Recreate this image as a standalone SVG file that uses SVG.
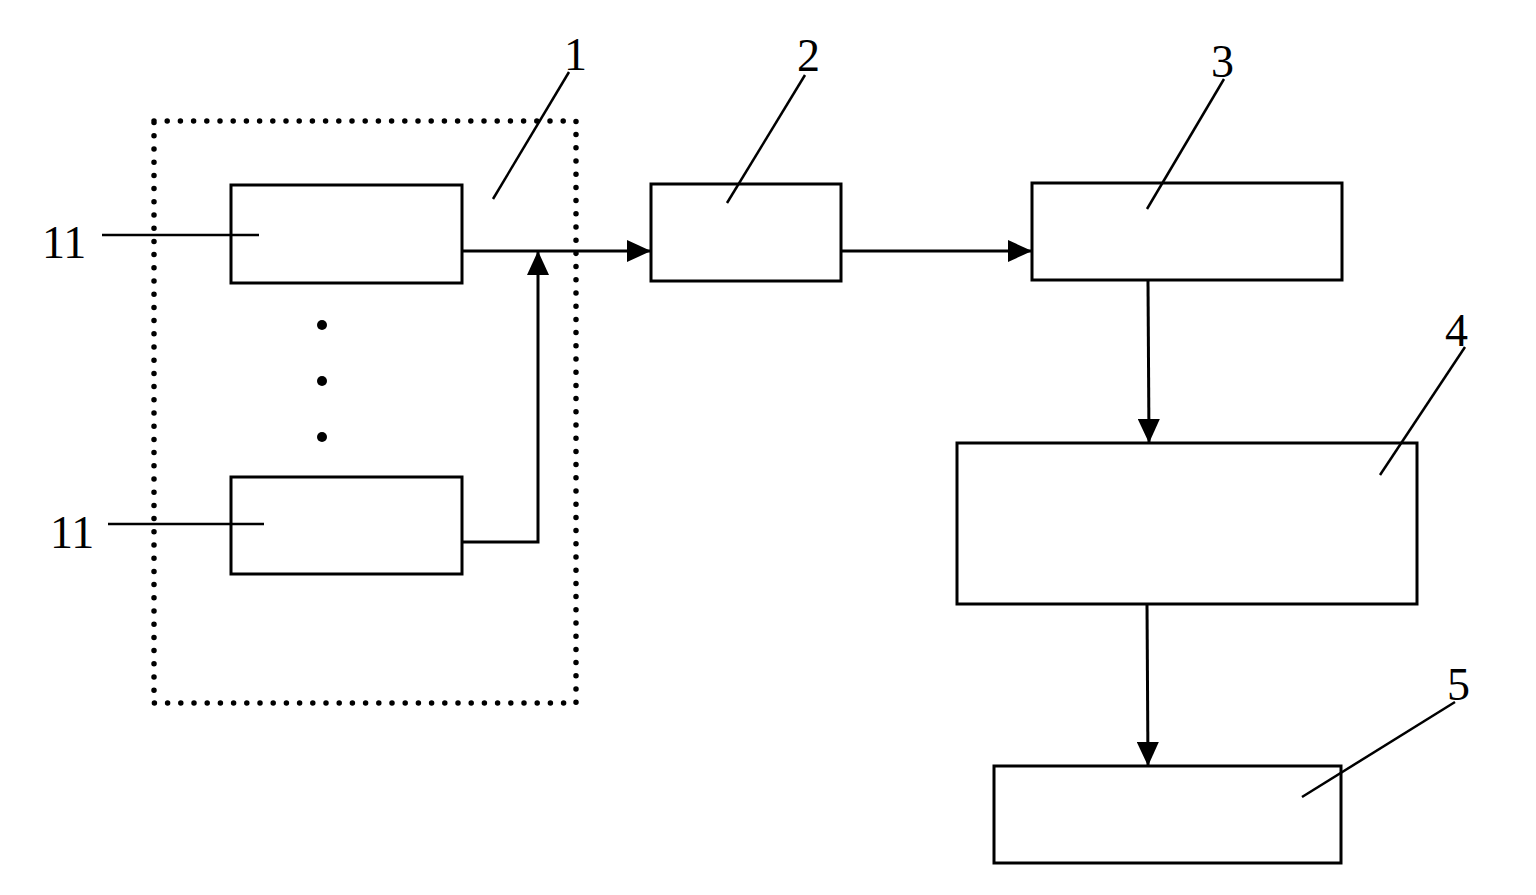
<svg xmlns="http://www.w3.org/2000/svg" width="1536" height="895" viewBox="0 0 1536 895">
<style>
.box{fill:none;stroke:#000;stroke-width:3}
.ln{fill:none;stroke:#000;stroke-width:3}
.lead{fill:none;stroke:#000;stroke-width:2.5}
.lbl{font-family:"Liberation Serif","Times New Roman",serif;font-size:46px;fill:#000}
.dot{fill:none;stroke:#000;stroke-width:5.5;stroke-linecap:round;stroke-dasharray:0 13.2}
</style>
<defs>
<marker id="ah" viewBox="0 0 24 22" refX="24" refY="11" markerWidth="24" markerHeight="22" markerUnits="userSpaceOnUse" orient="auto">
<path d="M0,0 L24,11 L0,22 Z" fill="#000"/>
</marker>
</defs>
<rect width="1536" height="895" fill="#fff"/>

<g id="group1">
<rect class="dot" x="154" y="121" width="422" height="582"/>
<text class="lbl" x="564" y="70">1</text>
<line class="lead" x1="569" y1="72" x2="493" y2="199"/>
</g>

<g id="node11a">
<rect class="box" x="231" y="185" width="231" height="98"/>
<text class="lbl" x="42" y="258">11</text>
<line class="lead" x1="102" y1="235" x2="259" y2="235"/>
</g>

<g id="dots">
<circle cx="322" cy="325" r="5" fill="#000"/>
<circle cx="322" cy="381" r="5" fill="#000"/>
<circle cx="322" cy="437" r="5" fill="#000"/>
</g>

<g id="node11b">
<rect class="box" x="231" y="477" width="231" height="97"/>
<text class="lbl" x="50" y="548">11</text>
<line class="lead" x1="108" y1="524" x2="264" y2="524"/>
</g>

<g id="node2">
<rect class="box" x="651" y="184" width="190" height="97"/>
<text class="lbl" x="797" y="71">2</text>
<line class="lead" x1="805" y1="75" x2="727" y2="203"/>
</g>

<g id="node3">
<rect class="box" x="1032" y="183" width="310" height="97"/>
<text class="lbl" x="1211" y="77">3</text>
<line class="lead" x1="1224" y1="79" x2="1147" y2="209"/>
</g>

<g id="node4">
<rect class="box" x="957" y="443" width="460" height="161"/>
<text class="lbl" x="1445" y="346">4</text>
<line class="lead" x1="1465" y1="347" x2="1380" y2="475"/>
</g>

<g id="node5">
<rect class="box" x="994" y="766" width="347" height="97"/>
<text class="lbl" x="1447" y="700">5</text>
<line class="lead" x1="1455" y1="702" x2="1302" y2="797"/>
</g>

<g id="connectors">
<line class="ln" x1="462" y1="251" x2="651" y2="251" marker-end="url(#ah)"/>
<polyline class="ln" points="462,542 538,542 538,251" marker-end="url(#ah)"/>
<line class="ln" x1="841" y1="251" x2="1032" y2="251" marker-end="url(#ah)"/>
<line class="ln" x1="1148" y1="281" x2="1149" y2="443" marker-end="url(#ah)"/>
<line class="ln" x1="1147" y1="604" x2="1148" y2="766" marker-end="url(#ah)"/>
</g>
</svg>
